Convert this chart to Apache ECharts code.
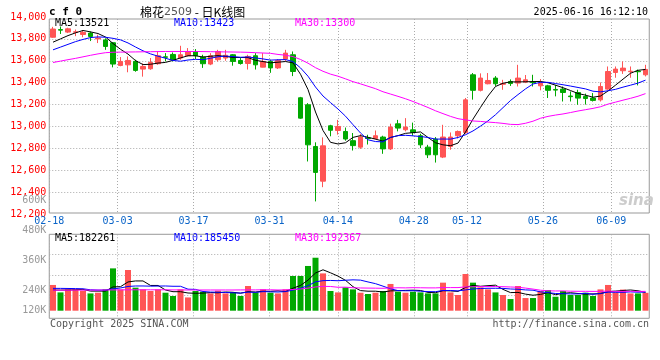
<!DOCTYPE html>
<html><head><meta charset="utf-8">
<script src="https://cdn.jsdelivr.net/npm/echarts@6/dist/echarts.min.js"></script>
<style>html,body{margin:0;padding:0;background:#fff}#c{width:660px;height:360px}</style>
</head><body><div id="c"></div>
<script>
// ---- data ----
const dates = ['02-18','02-19','02-20','02-21','02-24','02-25','02-26','02-27','02-28',
'03-03','03-04','03-05','03-06','03-07','03-10','03-11','03-12','03-13','03-14',
'03-17','03-18','03-19','03-20','03-21','03-24','03-25','03-26','03-27','03-28','03-31',
'04-01','04-02','04-03','04-07','04-08','04-09','04-10','04-11','04-14','04-15','04-16','04-17','04-18',
'04-21','04-22','04-23','04-24','04-25','04-28','04-29','04-30',
'05-06','05-07','05-08','05-09','05-12','05-13','05-14','05-15','05-16','05-19','05-20','05-21','05-22','05-23',
'05-26','05-27','05-28','05-29','05-30','06-03','06-04','06-05','06-06','06-09','06-10','06-11','06-12','06-13','06-16'];
const opens = [13815,13885,13862,13860,13840,13853,13800,13790,13765,13557,13563,13594,13524,13527,13573,13636,13658,13625,13646,13685,
13634,13570,13610,13625,13655,13603,13575,13646,13542,13594,13535,13616,13655,13262,13198,12817,12500,13006,12963,12954,
12870,12811,12895,12890,12903,12795,13024,12970,12969,12915,12811,12884,12720,12817,12915,12945,13472,13330,13390,13442,
13385,13411,13396,13405,13405,13371,13371,13338,13341,13278,13310,13274,13259,13243,13341,13493,13509,13500,13505,13472];
const highs = [13910,13913,13902,13885,13880,13868,13838,13805,13770,13634,13640,13610,13575,13625,13685,13670,13676,13737,13716,13707,
13655,13670,13700,13700,13661,13625,13655,13670,13670,13610,13615,13700,13685,13270,13213,12855,12900,13015,13060,12990,
12940,12930,12924,12963,12915,13025,13060,13076,13035,12933,12832,12903,13015,12945,12963,13260,13488,13485,13488,13460,
13426,13430,13563,13470,13472,13433,13380,13380,13365,13320,13335,13300,13305,13402,13548,13548,13594,13548,13520,13563];
const lows = [13810,13845,13853,13825,13815,13780,13762,13700,13540,13550,13495,13500,13455,13518,13563,13594,13594,13609,13640,13616,
13535,13560,13594,13600,13555,13565,13520,13520,13540,13490,13525,13594,13460,13070,12680,12315,12445,12910,12925,12870,
12780,12795,12835,12880,12750,12785,12955,12955,12915,12802,12711,12670,12711,12787,12890,12933,13245,13320,13385,13370,
13335,13370,13365,13396,13365,13330,13260,13275,13228,13228,13198,13200,13228,13228,13335,13445,13480,13445,13375,13457];
const closes = [13890,13880,13892,13865,13860,13822,13808,13731,13570,13594,13603,13512,13548,13585,13646,13632,13610,13655,13685,13646,
13573,13646,13685,13650,13594,13575,13640,13563,13594,13535,13603,13670,13502,13076,12832,12580,12823,12965,13000,12885,
12825,12903,12890,12915,12795,12994,12985,12994,12945,12832,12741,12741,12903,12903,12954,13243,13330,13442,13420,13390,
13392,13392,13442,13426,13400,13396,13330,13332,13310,13272,13259,13255,13238,13365,13502,13524,13533,13505,13500,13521];
const ma5 = [13770,13800,13830,13855,13877,13864,13849,13817,13758,13705,13661,13602,13565,13568,13579,13585,13604,13626,13646,13646,
13634,13641,13647,13640,13630,13630,13629,13604,13593,13581,13587,13593,13581,13477,13337,13132,12963,12855,12840,12851,
12900,12916,12901,12884,12866,12899,12916,12937,12943,12950,12899,12851,12832,12824,12848,12949,13067,13174,13278,13365,
13395,13407,13407,13408,13410,13411,13399,13377,13354,13328,13301,13286,13267,13278,13324,13377,13432,13486,13513,13521];
const ma10 = [13700,13725,13750,13775,13795,13812,13818,13815,13805,13791,13763,13726,13691,13663,13642,13623,13603,13596,13607,13613,
13610,13623,13637,13643,13638,13632,13635,13626,13617,13606,13609,13611,13593,13535,13459,13360,13278,13218,13159,13094,
13016,12940,12878,12862,12859,12900,12916,12919,12914,12908,12899,12884,12885,12884,12899,12924,12959,13003,13051,13107,
13172,13237,13291,13343,13388,13403,13403,13392,13381,13369,13356,13343,13322,13316,13326,13339,13359,13377,13396,13423];
const ma30 = [13584,13597,13610,13622,13636,13650,13663,13674,13678,13679,13680,13681,13682,13683,13684,13685,13685,13685,13685,13685,
13684,13683,13682,13681,13680,13679,13677,13674,13671,13668,13658,13651,13638,13612,13578,13537,13504,13478,13459,13435,
13409,13389,13367,13345,13317,13296,13275,13253,13228,13201,13173,13143,13117,13092,13071,13060,13050,13046,13040,13035,
13028,13019,13017,13029,13048,13075,13092,13104,13114,13127,13141,13153,13165,13180,13204,13222,13240,13257,13276,13300];
const volumes = [256000,182000,212000,212000,199000,172000,179000,212000,421000,212000,
405000,229000,212000,196000,212000,179000,146000,212000,132000,196000,
189000,172000,199000,172000,182000,146000,246000,182000,212000,179000,
172000,212000,345000,345000,445000,527000,371000,196000,182000,232000,
212000,179000,166000,179000,196000,266000,189000,179000,189000,182000,
172000,172000,279000,182000,156000,365000,279000,232000,212000,182000,
156000,116000,246000,126000,126000,196000,206000,139000,196000,156000,
156000,179000,146000,212000,256000,182000,210000,172000,172000,178000];
const volMa5 = [205000,205000,206000,208000,212000,195000,195000,195000,237000,239000,
286000,296000,296000,251000,251000,206000,189000,189000,176000,173000,
175000,180000,178000,186000,183000,174000,189000,186000,194000,193000,
198000,191000,224000,251000,304000,375000,407000,377000,344000,302000,
239000,200000,194000,194000,186000,197000,199000,202000,204000,201000,
182000,179000,199000,197000,192000,231000,252000,243000,249000,254000,
212000,180000,182000,165000,154000,162000,180000,159000,173000,179000,
171000,165000,167000,170000,190000,195000,201000,206000,198000,182261];
const volMa10 = [222000,222000,221000,220000,218000,208000,205000,205000,218000,226000,
241000,246000,246000,244000,245000,246000,243000,243000,214000,212000,
191000,185000,184000,181000,178000,175000,185000,182000,190000,188000,
186000,190000,205000,223000,249000,287000,299000,301000,298000,303000,
307000,304000,286000,269000,244000,218000,200000,198000,199000,194000,
190000,189000,201000,201000,197000,207000,216000,221000,223000,223000,
222000,216000,213000,207000,204000,187000,180000,171000,169000,167000,
167000,173000,163000,172000,185000,183000,183000,187000,184000,185450];
const volMa30 = [204000,204000,204000,205000,205000,205000,205000,206000,207000,207000,
208000,208000,208000,208000,208000,208000,207000,207000,206000,206000,
206000,206000,206000,206000,206000,207000,207000,207000,208000,208000,
206000,207000,211000,216000,224000,236000,242000,241000,233000,234000,
228000,226000,225000,224000,223000,226000,228000,227000,229000,228000,
227000,227000,230000,230000,230000,237000,238000,240000,240000,240000,
239000,236000,233000,225000,215000,204000,198000,196000,197000,194000,
193000,193000,192000,193000,195000,192000,193000,193000,192000,192367];
const dateTicks = ['02-18','03-03','03-17','03-31','04-14','04-28','05-12','05-26','06-09'];
const priceMin = 12200, priceMax = 14000, priceStep = 200;
const volLabelMin = 120000, volLabelMax = 600000, volLabelStep = 120000;
const volAxisMax = 760000;

// ---- styles ----
const RED = '#ff5555', GREEN = '#00a800';
const MONO = '"DejaVu Sans Mono", monospace';
const GRID_LINE = {color: '#aaaaaa', type: [1, 2], width: 1};
const L = 49.25, W = 600;
const isTick = (i, v) => dateTicks.indexOf(v) >= 0;
const last = a => a[a.length - 1];

const chart = echarts.init(document.getElementById('c'), null, {renderer: 'canvas'});
const hiddenCat = (gi, gap) => ({type: 'category', gridIndex: gi, data: dates, boundaryGap: gap,
  axisLine: {show: false}, axisTick: {show: false}, axisLabel: {show: false}, splitLine: {show: false}});
const hiddenVal = (gi) => ({type: 'value', gridIndex: gi, show: false, splitLine: {show: false}});

chart.setOption({
  animation: false,
  backgroundColor: '#fff',
  grid: [
    {left: L, width: W, top: 17, height: 197, outerBoundsMode: 'none'},                 // 0 price
    {left: L, width: W, top: 234.3, height: 76.4, outerBoundsMode: 'none'},             // 1 volume bars
    {left: L, width: W, top: 19, height: 194, show: true, borderColor: '#999', borderWidth: 1, backgroundColor: 'transparent', outerBoundsMode: 'none'}, // 2 main frame
    {left: L, width: W, top: 234.3, height: 84, show: true, borderColor: '#999', borderWidth: 1, backgroundColor: 'transparent', outerBoundsMode: 'none'}, // 3 vol frame
    {left: L, width: W, top: 200.7, height: 120, outerBoundsMode: 'none'}               // 4 vol labels
  ],
  xAxis: [
    hiddenCat(0, true),
    hiddenCat(1, true),
    {type: 'category', gridIndex: 2, data: dates, boundaryGap: false,
      axisLine: {show: false}, axisTick: {show: false},
      axisLabel: {interval: isTick, color: '#0a64c8', fontFamily: MONO, fontSize: 10, margin: 3},
      splitLine: {show: true, interval: isTick, lineStyle: GRID_LINE}},
    {type: 'category', gridIndex: 3, data: dates, boundaryGap: false,
      axisLine: {show: false}, axisTick: {show: false}, axisLabel: {show: false},
      splitLine: {show: true, interval: isTick, lineStyle: GRID_LINE}},
    hiddenCat(4, true)
  ],
  yAxis: [
    {type: 'value', gridIndex: 0, min: priceMin, max: priceMax, interval: priceStep,
      axisLine: {show: false}, axisTick: {show: false},
      axisLabel: {color: '#ff0000', fontFamily: MONO, fontSize: 10, margin: 3},
      splitLine: {show: true, lineStyle: GRID_LINE, showMinLine: false, showMaxLine: false}},
    {type: 'value', gridIndex: 1, min: 0, max: volAxisMax, show: false, splitLine: {show: false}},
    {type: 'value', gridIndex: 1, position: 'right', inverse: true, min: 0, max: 3.745, interval: 1,
      axisLine: {show: false}, axisTick: {show: false}, axisLabel: {show: false},
      splitLine: {show: true, lineStyle: GRID_LINE, showMinLine: false, showMaxLine: false}},
    hiddenVal(2),
    hiddenVal(3),
    {type: 'value', gridIndex: 4, min: volLabelMin, max: volLabelMax, interval: volLabelStep,
      axisLine: {show: false}, axisTick: {show: false}, splitLine: {show: false},
      axisLabel: {color: '#999', fontFamily: MONO, fontSize: 10, margin: 3,
        formatter: v => v === volLabelMin ? '{lo|' + (v / 1000) + 'K}' : (v / 1000) + 'K',
        rich: {lo: {color: '#999', fontFamily: MONO, fontSize: 10, padding: [0, 0, 21, 0]}}}}
  ],
  series: [
    {type: 'candlestick', xAxisIndex: 0, yAxisIndex: 0, barWidth: 5,
      data: dates.map((d, i) => [opens[i], closes[i], lows[i], highs[i]]),
      itemStyle: {color: RED, color0: GREEN, borderColor: RED, borderColor0: GREEN, borderWidth: 1}},
    {type: 'line', xAxisIndex: 0, yAxisIndex: 0, data: ma5, symbol: 'none', lineStyle: {color: '#000', width: 1}, silent: true},
    {type: 'line', xAxisIndex: 0, yAxisIndex: 0, data: ma10, symbol: 'none', lineStyle: {color: '#0000ff', width: 1}, silent: true},
    {type: 'line', xAxisIndex: 0, yAxisIndex: 0, data: ma30, symbol: 'none', lineStyle: {color: '#ff00ff', width: 1}, silent: true},
    {type: 'bar', xAxisIndex: 1, yAxisIndex: 1, data: volumes, barWidth: 6,
      itemStyle: {color: p => closes[p.dataIndex] >= opens[p.dataIndex] ? RED : GREEN}},
    {type: 'line', xAxisIndex: 1, yAxisIndex: 1, data: volMa5, symbol: 'none', lineStyle: {color: '#000', width: 1}, silent: true},
    {type: 'line', xAxisIndex: 1, yAxisIndex: 1, data: volMa10, symbol: 'none', lineStyle: {color: '#0000ff', width: 1}, silent: true},
    {type: 'line', xAxisIndex: 1, yAxisIndex: 1, data: volMa30, symbol: 'none', lineStyle: {color: '#ff00ff', width: 1}, silent: true}
  ],
  graphic: [
    {type: 'text', x: 49, y: 12, style: {text: 'c f 0', font: 'bold 11px ' + MONO, fill: '#000', verticalAlign: 'middle'}},
    {type: 'text', x: 140, y: 12, style: {text: '{a|棉花}{b|2509}{a| - 日K线图}', verticalAlign: 'middle',
      rich: {a: {fontFamily: '"Noto Sans CJK SC"', fontSize: 12, fill: '#000'}, b: {fontFamily: '"DejaVu Sans"', fontSize: 11, fill: '#555'}}}},
    {type: 'text', x: 648, y: 12, style: {text: '2025-06-16 16:12:10', font: '10px ' + MONO, fill: '#000', align: 'right', verticalAlign: 'middle'}},
    {type: 'text', x: 55, y: 23.7, style: {text: 'MA5:' + last(ma5), font: '10px ' + MONO, fill: '#000', verticalAlign: 'middle'}},
    {type: 'text', x: 174, y: 23.7, style: {text: 'MA10:' + last(ma10), font: '10px ' + MONO, fill: '#0000ff', verticalAlign: 'middle'}},
    {type: 'text', x: 295, y: 23.7, style: {text: 'MA30:' + last(ma30), font: '10px ' + MONO, fill: '#ff00ff', verticalAlign: 'middle'}},
    {type: 'text', x: 55, y: 238.7, style: {text: 'MA5:' + last(volMa5), font: '10px ' + MONO, fill: '#000', verticalAlign: 'middle'}},
    {type: 'text', x: 174, y: 238.7, style: {text: 'MA10:' + last(volMa10), font: '10px ' + MONO, fill: '#0000ff', verticalAlign: 'middle'}},
    {type: 'text', x: 295, y: 238.7, style: {text: 'MA30:' + last(volMa30), font: '10px ' + MONO, fill: '#ff00ff', verticalAlign: 'middle'}},
    {type: 'text', x: 50, y: 324, style: {text: 'Copyright 2025 SINA.COM', font: '10px ' + MONO, fill: '#555', verticalAlign: 'middle'}},
    {type: 'text', x: 649, y: 324, style: {text: 'http://finance.sina.com.cn', font: '10px ' + MONO, fill: '#555', align: 'right', verticalAlign: 'middle'}},
    {type: 'text', x: 619, y: 201, z: 0, style: {text: 'sina', font: 'italic bold 15px "DejaVu Sans"', fill: '#cccccc', verticalAlign: 'middle'}}
  ]
});
</script></body></html>
